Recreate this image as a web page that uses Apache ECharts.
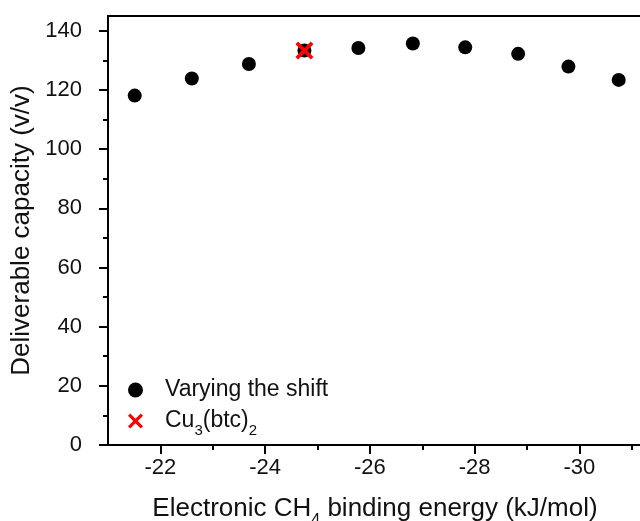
<!DOCTYPE html>
<html>
<head>
<meta charset="utf-8">
<script src="https://cdn.jsdelivr.net/npm/echarts@6/dist/echarts.min.js"></script>
<style>
  html, body { margin: 0; padding: 0; background: #fff; }
  #chart { width: 640px; height: 521px; }
</style>
</head>
<body>
<div id="chart"></div>
<script>
// binding energy (kJ/mol) and deliverable capacity (v/v)
const energies = [-21.51, -22.60, -23.69, -24.75, -25.78, -26.82, -27.82, -28.83, -29.79, -30.75]
const capacities = [118.1, 123.9, 128.8, 133.3, 134.2, 135.7, 134.4, 132.2, 127.9, 123.4]
// Cu3(btc)2 point
const cuEnergy = [-24.75]
const cuCapacity = [133.3]

const xMajorTicks = [-22, -24, -26, -28, -30]
const xMinorTicks = [-23, -25, -27, -29, -31]
const yMajorTicks = [0, 20, 40, 60, 80, 100, 120, 140]
const yMinorTicks = [10, 30, 50, 70, 90, 110, 130]

const crossPath = 'path://M1.5,0 L5,3.5 L8.5,0 L10,1.5 L6.5,5 L10,8.5 L8.5,10 L5,6.5 L1.5,10 L0,8.5 L3.5,5 L0,1.5 Z'
const font = 'Liberation Sans'
const ink = '#111'

const chart = echarts.init(document.getElementById('chart'), null, { renderer: 'canvas' })

const xBase = {
  type: 'value',
  min: -31.5,
  max: -21,
  inverse: true,
  splitLine: { show: false }
}
const yBase = {
  type: 'value',
  min: 0,
  max: 145,
  splitLine: { show: false }
}

const option = {
  animation: false,
  backgroundColor: '#fff',
  grid: {
    left: 108,
    top: 16,
    width: 550,
    bottom: 76,
    outerBoundsMode: 'none',
    containLabel: false,
    show: true,
    borderColor: '#000',
    borderWidth: 2
  },
  legend: {
    orient: 'vertical',
    left: 128,
    top: 378,
    padding: 0,
    itemGap: 8,
    itemWidth: 15,
    itemHeight: 15,
    data: [
      { name: 'Varying the shift', icon: 'circle', itemStyle: { color: '#000', opacity: 1 } },
      { name: 'Cu3(btc)2', icon: crossPath, itemStyle: { color: '#ff0000', opacity: 1 } }
    ],
    formatter: function (name) {
      if (name === 'Cu3(btc)2') return '{p|Cu}{s|3}{a|(btc)}{s|2}'
      return '{p|' + name + '}'
    },
    textStyle: {
      fontFamily: font,
      color: ink,
      rich: {
        p: { fontFamily: font, fontSize: 23, lineHeight: 24, color: ink, padding: [0, 0, 0, 17], verticalAlign: 'top' },
        a: { fontFamily: font, fontSize: 23, lineHeight: 24, color: ink, verticalAlign: 'top' },
        s: { fontFamily: font, fontSize: 15, lineHeight: 15, color: ink, padding: [14, 0, 0, 0], verticalAlign: 'top' }
      }
    }
  },
  xAxis: [
    Object.assign({}, xBase, {
      name: '{a|Electronic CH}{s|4}{a| binding energy (kJ/mol)}',
      nameLocation: 'middle',
      nameGap: 51,
      nameTextStyle: {
        fontFamily: font,
        fontSize: 26,
        color: ink,
        padding: [0, 16, 0, 0],
        rich: {
          a: { fontFamily: font, fontSize: 26, lineHeight: 27, color: ink, verticalAlign: 'top' },
          s: { fontFamily: font, fontSize: 16, lineHeight: 16, color: ink, padding: [17, 0, 0, 0], verticalAlign: 'top' }
        }
      },
      axisLine: { show: true, lineStyle: { color: '#000', width: 2 } },
      axisTick: { show: true, customValues: xMajorTicks, length: 9, lineStyle: { color: '#000', width: 2 } },
      axisLabel: { customValues: xMajorTicks, margin: 12, fontFamily: font, fontSize: 22, color: ink }
    }),
    Object.assign({}, xBase, {
      position: 'bottom',
      axisLine: { show: false },
      axisTick: { show: true, customValues: xMinorTicks, length: 5, lineStyle: { color: '#000', width: 2 } },
      axisLabel: { show: false }
    })
  ],
  yAxis: [
    Object.assign({}, yBase, {
      name: 'Deliverable capacity (v/v)',
      nameLocation: 'middle',
      nameGap: 72,
      nameTextStyle: { fontFamily: font, fontSize: 26, color: ink },
      axisLine: { show: true, lineStyle: { color: '#000', width: 2 } },
      axisTick: { show: true, customValues: yMajorTicks, length: 9, lineStyle: { color: '#000', width: 2 } },
      axisLabel: { customValues: yMajorTicks, margin: 26, fontFamily: font, fontSize: 22, color: ink }
    }),
    Object.assign({}, yBase, {
      position: 'left',
      axisLine: { show: false },
      axisTick: { show: true, customValues: yMinorTicks, length: 5, lineStyle: { color: '#000', width: 2 } },
      axisLabel: { show: false }
    })
  ],
  series: [
    {
      name: 'Varying the shift',
      type: 'scatter',
      symbol: 'circle',
      symbolSize: 14,
      itemStyle: { color: '#000', opacity: 1 },
      data: energies.map((e, i) => [e, capacities[i]]),
      z: 2
    },
    {
      name: 'Cu3(btc)2',
      type: 'scatter',
      symbol: crossPath,
      symbolSize: 18,
      itemStyle: { color: '#ff0000', opacity: 1 },
      data: cuEnergy.map((e, i) => [e, cuCapacity[i]]),
      z: 3
    }
  ]
}

chart.setOption(option)
</script>
</body>
</html>
